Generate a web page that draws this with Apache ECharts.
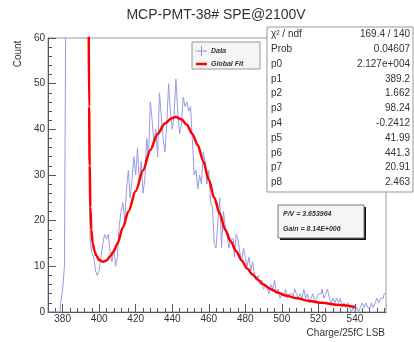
<!DOCTYPE html>
<html>
<head>
<meta charset="utf-8">
<script src="https://cdn.jsdelivr.net/npm/echarts@6/dist/echarts.min.js"></script>
<style>
  html, body { margin: 0; padding: 0; background: #fff; }
  #chart { width: 414px; height: 342px; }
</style>
</head>
<body>
<div id="chart"></div>
<script>
// histogram: 1 LSB bins, first bin starts at 372
var binStart = 372;
var binWidth = 1;
var counts = [
  0, 0, 0, 0, 0, 0, 0, 2, 5, 10,
  90, 180, 320, 460, 540, 520, 430, 330, 240, 170,
  120, 90, 70, 16, 13, 12, 9, 8, 9, 12,
  15, 17, 16, 17, 13, 11, 14, 10, 12, 19,
  22, 24, 20, 27, 31, 25, 29, 34, 30, 36,
  28, 33, 26, 29, 38, 34, 46, 42, 37, 40,
  34, 48, 43, 38, 35, 41, 50, 44, 40, 43,
  51, 44, 39, 41, 47, 45, 46, 44, 45, 38,
  30, 31, 27, 30, 28, 35, 33, 28, 31, 24,
  23, 15, 14, 20, 25, 14, 22, 19, 17, 14,
  16, 16, 12, 17, 16, 13, 11, 14, 12, 10,
  12, 9, 11, 8, 7, 8, 6, 7, 5, 6,
  5, 4, 6, 5, 7, 4, 5, 3, 4, 4,
  5, 3, 4, 4, 3, 5, 4, 3, 4, 3,
  5, 3, 4, 2, 3, 4, 2, 3, 4, 4,
  5, 3, 4, 5, 3, 2, 3, 2, 3, 2,
  3, 1, 2, 1, 2, 1, 0, 1, 0, 1,
  0, 1, 2, 1, 2, 1, 1, 2, 1, 2,
  3, 2, 3, 3, 4
];

// global fit curve
var fitX = [394.3, 394.5, 394.8, 395.2, 395.7, 396.5, 397.5, 398.5, 400, 402, 404, 406, 408, 410, 413, 416,
  420, 424, 428, 432, 436, 440, 442, 445, 448, 451, 454, 457, 460, 463, 466, 469, 472, 475, 478, 481,
  484, 487, 490, 494, 498, 502, 508, 515, 522, 530, 540];
var fitY = [62, 45, 32, 23, 18, 15, 13.3, 12.3, 11.4, 11, 11.3, 12.2, 13.3, 15, 18.5, 22,
  26.5, 31, 35.5, 39, 41.3, 42.5, 42.7, 42.2, 41, 39, 36.5, 33, 29, 25, 21.5, 18, 15.5, 13.3, 11.3, 9.5,
  8.2, 7, 6, 5, 4.2, 3.6, 3, 2.4, 2, 1.6, 1.1];

// axis ticks
var xMajor = [380, 400, 420, 440, 460, 480, 500, 520, 540];
var xMinor = [372, 376, 384, 388, 392, 396, 404, 408, 412, 416, 424, 428, 432, 436, 444, 448, 452, 456,
  464, 468, 472, 476, 484, 488, 492, 496, 504, 508, 512, 516, 524, 528, 532, 536, 544, 548, 552, 556];

// stats box
var statNames = ['χ² / ndf', 'Prob', 'p0', 'p1', 'p2', 'p3', 'p4', 'p5', 'p6', 'p7', 'p8'];
var statValues = ['169.4 / 140', '0.04607', '2.127e+004', '389.2', '1.662', '98.24', '-0.2412',
  '41.99', '441.3', '20.91', '2.463'];
var infoLines = ['P/V = 3.653964', 'Gain = 8.14E+006'];

var histData = counts.map(function (v, i) {
  return [binStart + (i + 0.5) * binWidth, v];
});
var fitData = fitX.map(function (x, i) {
  return [x, fitY[i]];
});

var font = '"Liberation Sans", Arial, sans-serif';
var axisColor = '#555';
var textColor = '#333';

var graphics = [];
graphics.push({
  type: 'text', x: 216, y: 15, z: 100,
  style: { text: 'MCP-PMT-38# SPE@2100V', font: '14px ' + font, fill: textColor, align: 'center', verticalAlign: 'middle' }
});
graphics.push({
  type: 'text', x: 18, y: 54, rotation: Math.PI / 2, z: 100,
  style: { text: 'Count', font: '10px ' + font, fill: textColor, align: 'center', verticalAlign: 'middle' }
});
graphics.push({
  type: 'text', x: 385, y: 333, z: 100,
  style: { text: 'Charge/25fC LSB', font: '10px ' + font, fill: textColor, align: 'right', verticalAlign: 'middle' }
});

// legend
graphics.push({
  type: 'rect', z: 100, shape: { x: 192, y: 42, width: 68, height: 27 },
  style: { fill: '#f5f5f5', stroke: '#999', lineWidth: 1 }
});
graphics.push({ type: 'line', z: 101, shape: { x1: 196, y1: 51, x2: 207, y2: 51 }, style: { stroke: '#8f8fe0', lineWidth: 1 } });
graphics.push({ type: 'line', z: 101, shape: { x1: 201.5, y1: 46, x2: 201.5, y2: 56 }, style: { stroke: '#8f8fe0', lineWidth: 1 } });
graphics.push({ type: 'line', z: 101, shape: { x1: 196, y1: 64, x2: 207, y2: 64 }, style: { stroke: '#ff0000', lineWidth: 2.5 } });
graphics.push({
  type: 'text', x: 211, y: 51, z: 101,
  style: { text: 'Data', font: 'italic bold 7px ' + font, fill: '#333', verticalAlign: 'middle' }
});
graphics.push({
  type: 'text', x: 211, y: 64, z: 101,
  style: { text: 'Global Fit', font: 'italic bold 7px ' + font, fill: '#333', verticalAlign: 'middle' }
});

// fit statistics
graphics.push({
  type: 'rect', z: 100, shape: { x: 267, y: 27, width: 146, height: 165 },
  style: { fill: '#fff', stroke: '#999', lineWidth: 1 }
});
statNames.forEach(function (name, i) {
  var y = 34.5 + i * 14.8;
  graphics.push({
    type: 'text', x: 271, y: y, z: 101,
    style: { text: name, font: '10px ' + font, fill: textColor, verticalAlign: 'middle' }
  });
  graphics.push({
    type: 'text', x: 410, y: y, z: 101,
    style: { text: statValues[i], font: '10px ' + font, fill: textColor, align: 'right', verticalAlign: 'middle' }
  });
});

// P/V and gain box with shadow
graphics.push({
  type: 'rect', z: 100, shape: { x: 280, y: 207, width: 86, height: 33 },
  style: { fill: '#111' }
});
graphics.push({
  type: 'rect', z: 101, shape: { x: 278, y: 205, width: 86, height: 33 },
  style: { fill: '#f5f5f5', stroke: '#777', lineWidth: 1 }
});
infoLines.forEach(function (t, i) {
  graphics.push({
    type: 'text', x: 283, y: 214 + i * 15, z: 102,
    style: { text: t, font: 'italic bold 7px ' + font, fill: '#333', verticalAlign: 'middle' }
  });
});

var chart = echarts.init(document.getElementById('chart'), null, { renderer: 'canvas' });
var option = {
  animation: false,
  backgroundColor: '#fff',
  grid: {
    left: 48, right: 28, top: 38, bottom: 30,
    show: true, borderColor: '#999', borderWidth: 1, backgroundColor: 'transparent'
  },
  xAxis: [{
    type: 'value', min: 372, max: 557,
    axisLine: { lineStyle: { color: axisColor } },
    axisTick: { inside: true, length: 8, customValues: xMajor, lineStyle: { color: axisColor } },
    axisLabel: { customValues: xMajor, fontSize: 10, fontFamily: font, color: textColor, margin: 2 },
    splitLine: { show: false }
  }, {
    type: 'value', min: 372, max: 557, position: 'bottom',
    axisLine: { show: false },
    axisTick: { inside: true, length: 4, customValues: xMinor, lineStyle: { color: axisColor } },
    axisLabel: { show: false },
    splitLine: { show: false }
  }],
  yAxis: {
    type: 'value', min: 0, max: 60, interval: 10,
    axisLine: { show: true, lineStyle: { color: axisColor } },
    axisTick: { inside: true, length: 8, lineStyle: { color: axisColor } },
    minorTick: { show: true, splitNumber: 5, length: 4, lineStyle: { color: axisColor } },
    axisLabel: { fontSize: 10, fontFamily: font, color: textColor, margin: 3 },
    splitLine: { show: false }
  },
  series: [{
    name: 'Data',
    type: 'line',
    step: 'middle',
    data: histData,
    symbol: 'none',
    clip: true,
    lineStyle: { color: '#9a9ae6', width: 1 },
    z: 2
  }, {
    name: 'Global Fit',
    type: 'line',
    data: fitData,
    symbol: 'none',
    smooth: 0.3,
    smoothMonotone: 'x',
    clip: true,
    lineStyle: { color: '#ff0000', width: 2.5 },
    z: 3
  }],
  graphic: graphics
};
chart.setOption(option);
</script>
</body>
</html>
